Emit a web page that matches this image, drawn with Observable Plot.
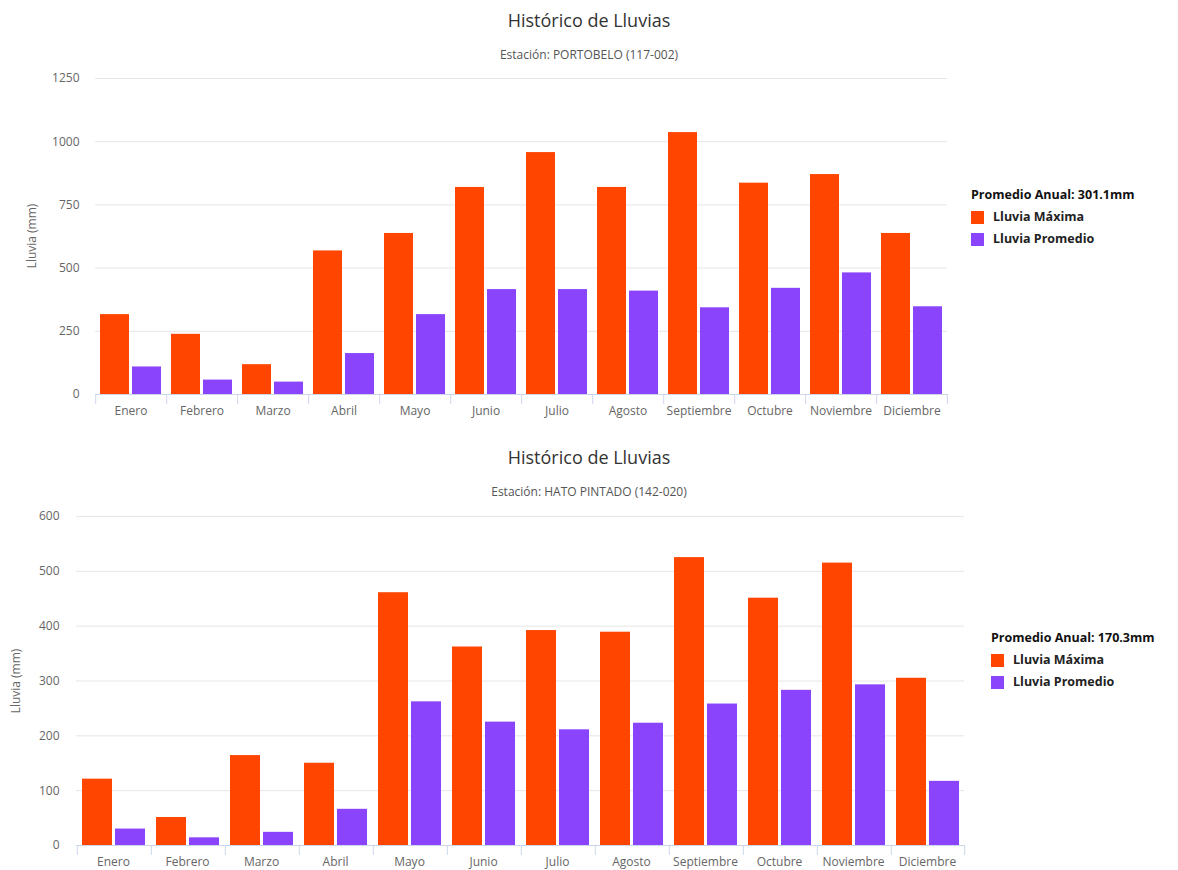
<!DOCTYPE html>
<html><head><meta charset="utf-8">
<script src="https://cdn.jsdelivr.net/npm/d3@7"></script>
<script src="https://cdn.jsdelivr.net/npm/@observablehq/plot@0.6"></script>
<style>
body{margin:0;background:#fff;font-family:"Open Sans",sans-serif;}
#page{position:relative;width:1178px;height:870px;overflow:hidden;background:#fff;}
.title{position:absolute;left:0;width:1178px;text-align:center;color:#333;font-size:18px;line-height:22px;}
.subtitle{position:absolute;left:0;width:1178px;text-align:center;color:#555;font-size:12px;line-height:16px;}
.ylabel{position:absolute;color:#666;font-size:12px;line-height:14px;white-space:nowrap;transform:translate(-50%,-50%) rotate(-90deg);}
.legend{position:absolute;font-weight:bold;font-size:12.5px;color:#111;line-height:16px;}
.legend .item{display:flex;align-items:center;margin-top:6px;color:#222;}
.legend .sw{display:inline-block;width:13px;height:13px;margin-right:9px;}
.chart{position:absolute;}
</style>
</head><body><div id="page"></div>
<script>
const months = ["Enero","Febrero","Marzo","Abril","Mayo","Junio","Julio","Agosto","Septiembre","Octubre","Noviembre","Diciembre"];
const series = ["Lluvia Máxima","Lluvia Promedio"];
const colors = ["#ff4500","#8a45fc"];
const chartTitle = "Histórico de Lluvias";
const yLabel = "Lluvia (mm)";

const stationTop = "Estación: PORTOBELO (117-002)";
const avgTop = "Promedio Anual: 301.1mm";
const maxTop  = [316, 238, 118, 568, 637, 819, 957, 819, 1036, 836, 870, 637];
const promTop = [109, 57, 49, 162, 316, 415, 415, 409, 343, 420, 481, 347];
const yTicksTop = [0, 250, 500, 750, 1000, 1250];

const stationBottom = "Estación: HATO PINTADO (142-020)";
const avgBottom = "Promedio Anual: 170.3mm";
const maxBottom  = [121, 51, 164, 150, 461, 362, 392, 389, 525, 451, 515, 305];
const promBottom = [30, 14, 24, 66, 262, 225, 211, 223, 258, 283, 293, 117];
const yTicksBottom = [0, 100, 200, 300, 400, 500, 600];

const page = document.getElementById("page");
const PI = 0.1, PO = 0.14;

function addDiv(cls, text, top, left) {
  const d = document.createElement("div");
  d.className = cls; d.textContent = text; d.style.top = top + "px";
  if (left !== undefined) d.style.left = left + "px";
  page.appendChild(d); return d;
}

function legend(title, top, left) {
  const l = document.createElement("div");
  l.className = "legend"; l.style.top = top + "px"; l.style.left = left + "px";
  const t = document.createElement("div"); t.textContent = title; l.appendChild(t);
  series.forEach((s, i) => {
    const it = document.createElement("div"); it.className = "item";
    const sw = document.createElement("span"); sw.className = "sw"; sw.style.background = colors[i];
    it.appendChild(sw); it.appendChild(document.createTextNode(s)); l.appendChild(it);
  });
  page.appendChild(l);
}

function chart(o) {
  const data = months.flatMap((m, i) => [
    {month: m, serie: series[0], value: o.maxV[i]},
    {month: m, serie: series[1], value: o.promV[i]}
  ]);
  const plotW = o.width - o.marginLeft - o.marginRight;
  const plotH = o.height - o.marginTop - o.marginBottom;
  const step = plotW / months.length;
  const s = step / (2 - PI + 2 * PO);
  const edge = PO * s + s * (1 - PI) / 2;
  const svg = Plot.plot({
    width: o.width, height: o.height,
    marginLeft: o.marginLeft, marginRight: o.marginRight, marginTop: o.marginTop, marginBottom: o.marginBottom,
    style: {fontFamily: "Open Sans", fontSize: "12px", color: "#666", background: "transparent", overflow: "visible"},
    fx: {domain: months, padding: 0, label: null, tickSize: 0, tickPadding: 12, axis: "bottom"},
    x: {domain: series, axis: null, paddingInner: PI, paddingOuter: PO},
    y: {domain: [0, o.yTicks[o.yTicks.length - 1]], ticks: o.yTicks, tickSize: 0, tickPadding: o.tickPad,
        tickFormat: d => String(d), label: null},
    color: {domain: series, range: colors},
    marks: [
      Plot.ruleY(o.yTicks.slice(1), {stroke: "#e6e6e6"}),
      Plot.barY(data, {fx: "month", x: "serie", y: "value", fill: "serie"}),
      Plot.ruleY([0], {stroke: "#ccd6eb"}),
      Plot.ruleX(months, {fx: d => d, x: () => series[0], dx: -edge, insetTop: plotH - 10, dy: 10, stroke: "#ccd6eb"}),
      Plot.ruleX(months.slice(-1), {fx: d => d, x: () => series[1], dx: edge, insetTop: plotH - 10, dy: 10, stroke: "#ccd6eb"})
    ]
  });
  svg.classList.add("chart");
  svg.style.top = o.top + "px"; svg.style.left = "0px";
  page.appendChild(svg);
  addDiv("ylabel", yLabel, o.top + o.marginTop + plotH / 2, o.labelX);
}

// Top chart
addDiv("title", chartTitle, 9);
addDiv("subtitle", stationTop, 47);
chart({maxV: maxTop, promV: promTop, yTicks: yTicksTop, top: 58, width: 960, height: 374,
  marginLeft: 93, marginRight: 12, marginTop: 20, marginBottom: 38, tickPad: 16, labelX: 32});
legend(avgTop, 187, 971);

// Bottom chart
addDiv("title", chartTitle, 446);
addDiv("subtitle", stationBottom, 484);
chart({maxV: maxBottom, promV: promBottom, yTicks: yTicksBottom, top: 496, width: 980, height: 387,
  marginLeft: 72, marginRight: 13, marginTop: 20, marginBottom: 38, tickPad: 17, labelX: 16});
legend(avgBottom, 630, 991);
</script>
</body></html>
